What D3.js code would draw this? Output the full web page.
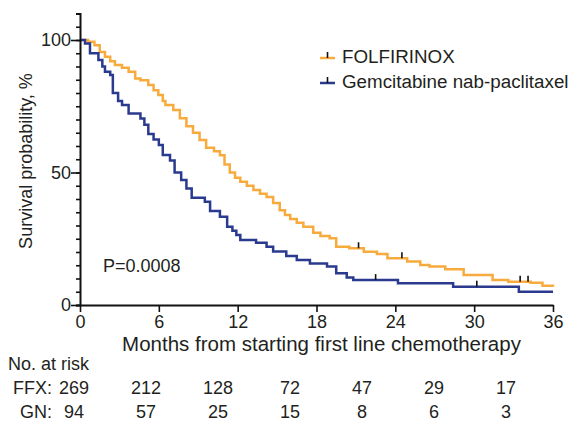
<!DOCTYPE html>
<html>
<head>
<meta charset="utf-8">
<script src="https://cdn.jsdelivr.net/npm/d3@7"></script>
<style>
  body { margin: 0; background: #fff; }
  text { font-family: "Liberation Sans", Arial, Helvetica, sans-serif; fill: #231f20; }
</style>
</head>
<body>
<div id="chart"></div>
<script>
/* Kaplan-Meier step points (months, survival %) */
const ffxMonths = [0, 0.6, 1.1, 1.5, 1.9, 2.3, 2.66, 3.2, 3.7, 4.2, 4.6, 5.2, 5.6, 5.96, 6.3, 6.5, 7.1, 7.6, 8.1, 8.6,
  9.1, 9.6, 10.2, 10.65, 11.0, 11.4, 11.8, 12.2, 12.7, 13.2, 13.7, 14.2, 14.7, 15.2, 15.6, 16.0, 16.5, 17.0, 17.75,
  18.3, 19.0, 19.5, 20.5, 21.6, 22.6, 23.4, 24.9, 25.9, 26.6, 27.8, 29.2, 31.4, 32.6, 34.3, 35.2, 36];
const ffxSurv = [100, 99.3, 98, 95.5, 93.7, 92, 90.6, 89.5, 88, 85.5, 84.8, 83, 81, 79.2, 77, 75.5, 73.6, 70.5, 67.5, 65,
  62.3, 59.3, 58, 56.5, 53, 50, 48, 46.5, 45, 43.4, 42, 40.8, 38.5, 35.8, 34, 32.5, 31, 29.5, 27.3,
  26, 25.2, 22, 21.4, 20.1, 19.2, 17.6, 16.4, 15.1, 14.5, 13.5, 11.3, 9.4, 8.8, 8.4, 7.3, 6.9];

const gnMonths = [0, 0.38, 0.76, 1.4, 1.7, 1.9, 2.3, 2.5, 2.9, 3.2, 3.7, 4.6, 4.9, 5.2, 5.6, 6.0, 6.3, 6.85, 7.2, 7.7,
  8.1, 8.5, 9.5, 9.9, 10.65, 11.2, 11.6, 11.9, 12.2, 13.4, 14.2, 14.7, 15.7, 16.5, 17.5, 18.8, 19.5, 20.3, 20.8,
  24.2, 28.4, 33.4, 36];
const gnSurv = [100, 98.7, 95, 92.5, 90, 88, 86.8, 80, 77, 75.5, 72.3, 70.4, 68, 64.5, 62.5, 60.4, 56.6, 54.5, 50, 47.2,
  44, 40.5, 39, 35.5, 33.3, 29.5, 28, 26.4, 24.5, 23.5, 22, 20.2, 18.5, 17, 15.7, 14.5, 12, 10.4, 9.4,
  8.2, 6.9, 5.0, 5.0];

/* Censored observations (months) */
const ffxCensor = [21.2, 24.5, 33.5, 34.1];
const gnCensor = [22.5, 30.2];

/* Number at risk table */
const riskMonths = [0, 6, 12, 18, 24, 30, 36];
const ffxRisk = [269, 212, 128, 72, 47, 29, 17];
const gnRisk = [94, 57, 25, 15, 8, 6, 3];

const xTicks = [0, 6, 12, 18, 24, 30, 36];

const series = [
  { name: "FOLFIRINOX", label: "FFX:", months: ffxMonths, surv: ffxSurv, censor: ffxCensor, risk: ffxRisk, color: "#f7ab3d" },
  { name: "Gemcitabine nab-paclitaxel", label: "GN:", months: gnMonths, surv: gnSurv, censor: gnCensor, risk: gnRisk, color: "#2a3a8e" }
];

const width = 571, height = 421;

const svg = d3.select("#chart")
  .append("svg")
  .attr("width", width)
  .attr("height", height);

/* Scales */
const x = d3.scaleLinear().domain([0, 36]).range([80, 553]);
const y = d3.scaleLinear().domain([0, 110]).range([305, 13.5]);

/* Curves */
const line = d3.line()
  .x(d => x(d[0]))
  .y(d => y(d[1]))
  .curve(d3.curveStepAfter);

series.forEach(s => {
  const pts = s.months.map((m, i) => [m, s.surv[i]]);
  svg.append("path")
    .datum(pts)
    .attr("fill", "none")
    .attr("stroke", s.color)
    .attr("stroke-width", 2.5)
    .attr("d", line);

  /* censor marks sit on the step value at that time */
  const bis = d3.bisector(d => d).right;
  svg.append("g")
    .selectAll("line")
    .data(s.censor)
    .join("line")
      .attr("x1", d => x(d))
      .attr("x2", d => x(d))
      .attr("y1", d => y(s.surv[bis(s.months, d) - 1]) - 6)
      .attr("y2", d => y(s.surv[bis(s.months, d) - 1]))
      .attr("stroke", "#111")
      .attr("stroke-width", 1.6);
});

/* Y axis: minor ticks every 5, major at 0/50/100 */
const yAxis = d3.axisLeft(y)
  .tickValues(d3.range(0, 111, 5))
  .tickSize(4)
  .tickFormat("");
const gy = svg.append("g")
  .attr("transform", `translate(${x(0)},0)`)
  .call(yAxis);
gy.select(".domain").attr("stroke", "#111").attr("stroke-width", 2);
gy.selectAll(".tick line").attr("stroke", "#111").attr("stroke-width", 1.6);

const yMajor = d3.axisLeft(y)
  .tickValues([0, 50, 100])
  .tickSize(9)
  .tickPadding(0);
const gy2 = svg.append("g")
  .attr("transform", `translate(${x(0)},0)`)
  .call(yMajor);
gy2.select(".domain").remove();
gy2.selectAll(".tick line").attr("stroke", "#111").attr("stroke-width", 1.6);
gy2.selectAll(".tick text")
  .attr("font-size", "18px")
  .attr("font-family", "Liberation Sans, Arial, sans-serif")
  .attr("fill", "#231f20");

/* X axis */
const xAxis = d3.axisBottom(x)
  .tickValues(xTicks)
  .tickSize(7)
  .tickPadding(3)
  .tickSizeOuter(0);
const gx = svg.append("g")
  .attr("transform", `translate(0,${y(0)})`)
  .call(xAxis);
gx.select(".domain").attr("stroke", "#111").attr("stroke-width", 2);
gx.selectAll(".tick line").attr("stroke", "#111").attr("stroke-width", 1.6);
gx.selectAll(".tick text")
  .attr("font-size", "18px")
  .attr("font-family", "Liberation Sans, Arial, sans-serif")
  .attr("fill", "#231f20");

/* Axis titles */
svg.append("text")
  .attr("transform", "rotate(-90)")
  .attr("x", -161)
  .attr("y", 32)
  .attr("text-anchor", "middle")
  .attr("font-size", "18px")
  .text("Survival probability, %");

svg.append("text")
  .attr("x", x(18) + 5)
  .attr("y", 351)
  .attr("text-anchor", "middle")
  .attr("font-size", "20.5px")
  .text("Months from starting first line chemotherapy");

/* P value */
svg.append("text")
  .attr("x", 103)
  .attr("y", 272)
  .attr("font-size", "18px")
  .text("P=0.0008");

/* Legend */
const legend = svg.append("g");
series.forEach((s, i) => {
  const ly = 58 + i * 25;
  legend.append("line")
    .attr("x1", 320).attr("x2", 335)
    .attr("y1", ly).attr("y2", ly)
    .attr("stroke", s.color)
    .attr("stroke-width", 2.5);
  legend.append("line")
    .attr("x1", 327.5).attr("x2", 327.5)
    .attr("y1", ly - 6).attr("y2", ly)
    .attr("stroke", "#111")
    .attr("stroke-width", 1.6);
  legend.append("text")
    .attr("x", 342)
    .attr("y", ly + 5)
    .attr("font-size", "18.8px")
    .text(s.name);
});

/* Number at risk table */
const riskX = d3.scalePoint().domain(riskMonths).range([74, 506]);

svg.append("text")
  .attr("x", 8)
  .attr("y", 370)
  .attr("font-size", "18px")
  .text("No. at risk");

series.forEach((s, i) => {
  const ry = 394 + i * 23.5;
  svg.append("text")
    .attr("x", 52)
    .attr("y", ry)
    .attr("text-anchor", "end")
    .attr("font-size", "18px")
    .text(s.label);
  svg.append("g")
    .selectAll("text")
    .data(s.risk)
    .join("text")
      .attr("x", (d, j) => riskX(riskMonths[j]))
      .attr("y", ry)
      .attr("text-anchor", "middle")
      .attr("font-size", "18px")
      .text(d => d);
});
</script>
</body>
</html>
